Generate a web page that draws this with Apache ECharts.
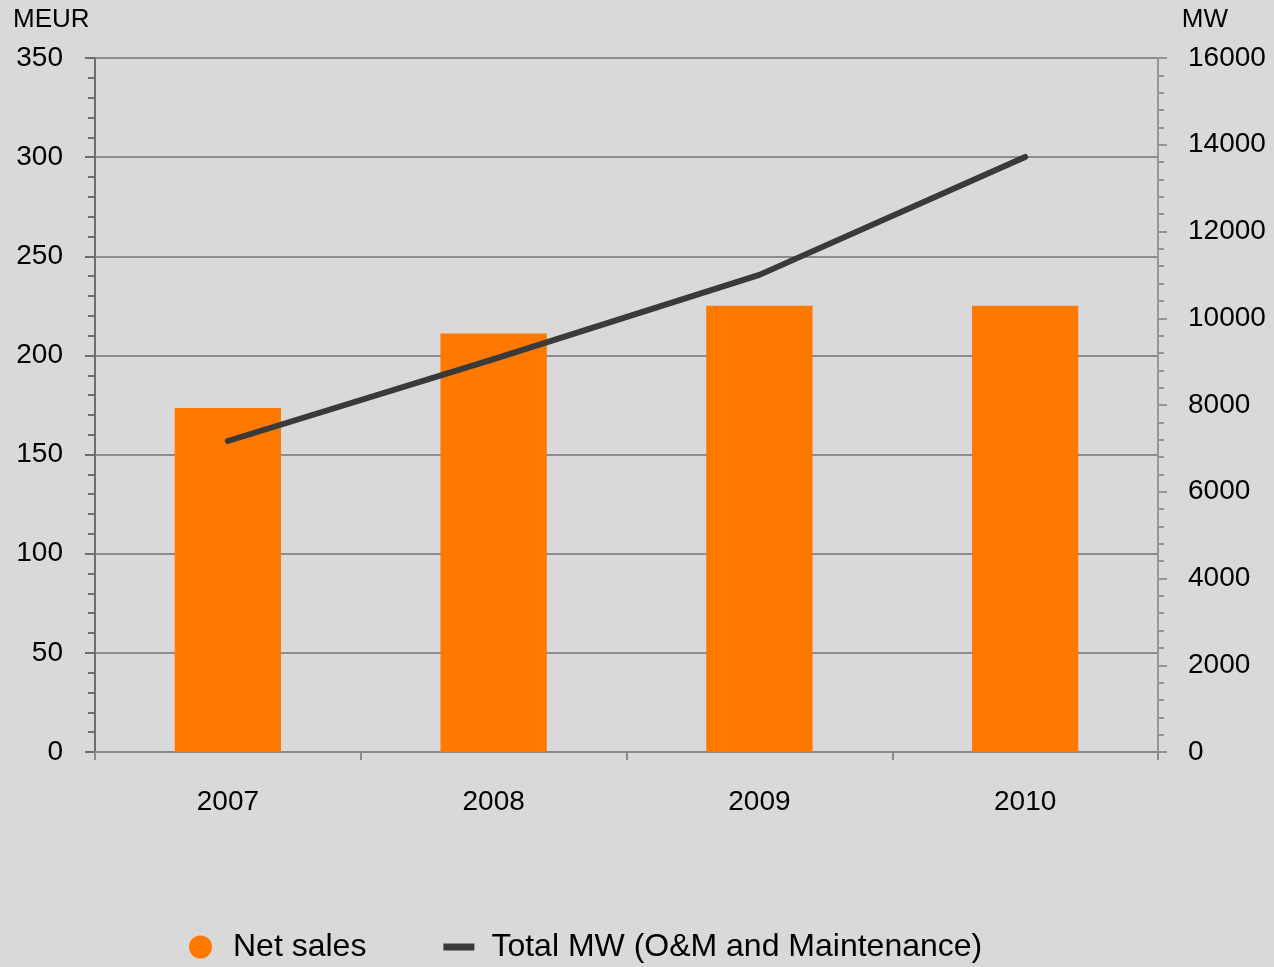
<!DOCTYPE html>
<html>
<head>
<meta charset="utf-8">
<script src="https://cdn.jsdelivr.net/npm/echarts@6/dist/echarts.min.js"></script>
<style>
html,body{margin:0;padding:0;background:#d9d9d9;}
#chart{width:1274px;height:967px;}
</style>
</head>
<body>
<div id="chart"></div>
<script>
var categories = ['2007', '2008', '2009', '2010'];
var netSales = [173.5, 211, 225, 225];
var totalMW = [7170, 9060, 11000, 13720];
var leftTicks = { min: 0, max: 350, interval: 50 };
var rightTicks = { min: 0, max: 16000, interval: 2000 };
var seriesNames = ['Net sales', 'Total MW (O&M and Maintenance)'];

var FONT = '"Liberation Sans", Arial, sans-serif';
var chart = echarts.init(document.getElementById('chart'));
chart.setOption({
  backgroundColor: '#d9d9d9',
  animation: false,
  textStyle: { fontFamily: FONT },
  title: [
    { text: 'MEUR', left: 8, top: 2, textStyle: { fontFamily: FONT, fontSize: 26, fontWeight: 'normal', color: '#000' } },
    { text: 'MW', right: 41, top: 2, textStyle: { fontFamily: FONT, fontSize: 26, fontWeight: 'normal', color: '#000' } }
  ],
  grid: { left: 95, right: 116, top: 58, bottom: 215, containLabel: false },
  legend: {
    left: 184,
    top: 926,
    itemWidth: 31,
    itemHeight: 23,
    itemGap: 77,
    symbolKeepAspect: true,
    textStyle: { fontFamily: FONT, fontSize: 32, color: '#000', padding: [0, 0, 0, 12] },
    data: [
      { name: seriesNames[0], icon: 'circle' },
      { name: seriesNames[1], icon: 'path://M0,0 L31,0 L31,7 L0,7 Z' }
    ]
  },
  xAxis: {
    type: 'category',
    data: categories,
    boundaryGap: true,
    axisLine: { lineStyle: { color: '#8a8a8a', width: 2 } },
    axisTick: { show: true, interval: 0, length: 8, lineStyle: { color: '#8a8a8a', width: 2 } },
    axisLabel: { fontSize: 28, color: '#000', margin: 36, fontFamily: FONT }
  },
  yAxis: [
    {
      type: 'value',
      position: 'left',
      min: leftTicks.min, max: leftTicks.max, interval: leftTicks.interval,
      axisLine: { show: true, lineStyle: { color: '#6e6e6e', width: 2 } },
      axisTick: { show: true, length: 10, lineStyle: { color: '#6e6e6e', width: 2 } },
      minorTick: { show: true, splitNumber: 5, length: 7, lineStyle: { color: '#6e6e6e', width: 2 } },
      splitLine: { show: true, lineStyle: { color: '#8c8c8c', width: 2 } },
      axisLabel: { fontSize: 28, color: '#000', margin: 32, fontFamily: FONT }
    },
    {
      type: 'value',
      position: 'right',
      min: rightTicks.min, max: rightTicks.max, interval: rightTicks.interval,
      axisLine: { show: true, lineStyle: { color: '#959595', width: 2 } },
      axisTick: { show: true, length: 9, lineStyle: { color: '#959595', width: 2 } },
      minorTick: { show: true, splitNumber: 5, length: 6, lineStyle: { color: '#959595', width: 2 } },
      splitLine: { show: false },
      axisLabel: { fontSize: 28, color: '#000', margin: 30, fontFamily: FONT, formatter: function (v) { return String(v); } }
    }
  ],
  series: [
    {
      name: seriesNames[0],
      type: 'bar',
      yAxisIndex: 0,
      data: netSales,
      barWidth: '40%',
      itemStyle: { color: '#ff7800' }
    },
    {
      name: seriesNames[1],
      type: 'line',
      yAxisIndex: 1,
      data: totalMW,
      showSymbol: false,
      symbol: 'none',
      lineStyle: { color: '#3a3a3a', width: 6, cap: 'round', join: 'round' },
      itemStyle: { color: '#3a3a3a' }
    }
  ]
});
</script>
</body>
</html>
